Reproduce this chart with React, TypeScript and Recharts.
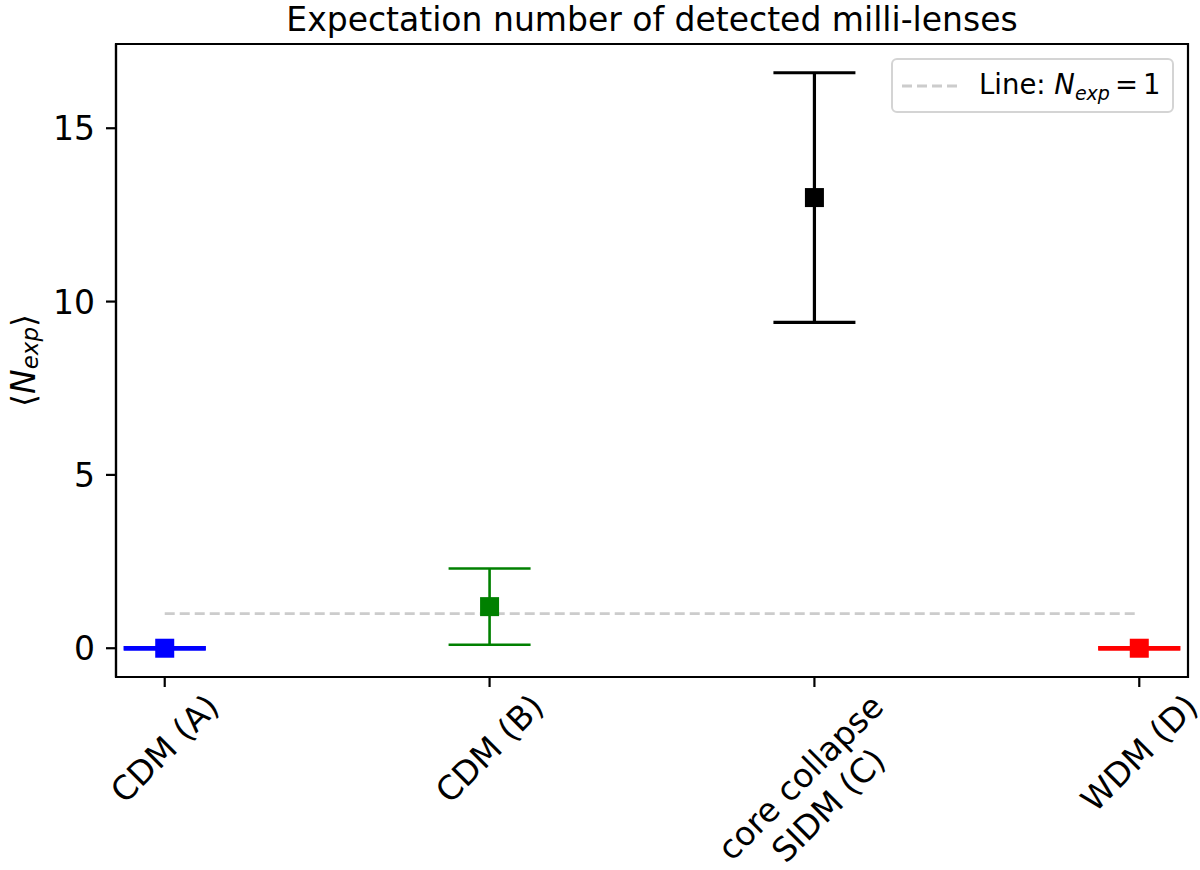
import React from 'react';
import {
  ComposedChart,
  Scatter,
  ErrorBar,
  XAxis,
  YAxis,
  ReferenceLine,
  ReferenceArea,
  Legend,
} from 'recharts';

// models on the x axis, one point each
const models = ['CDM (A)', 'CDM (B)', 'core collapse\nSIDM (C)', 'WDM (D)'];
const modelPos = [0, 1, 2, 3];
const expected = [0, 1.2, 13.0, 0];
const expectedErr = [0, 1.1, 3.6, 0];
const seriesColors = ['#0000ff', '#008000', '#000000', '#ff0000'];
const yTicks = [0, 5, 10, 15];
const threshold = 1;

const FS = 33;
const LEG_FS = 27.5;
const FONT = '"DejaVu Sans", Verdana, sans-serif';
const xDomain = [-0.15, 3.15];
const yDomain = [-0.83, 17.43];
const errWidths = [4.5, 2.6, 3.2, 4.5];

let ctx: CanvasRenderingContext2D | null = null;
const textWidth = (s: string) => {
  if (!ctx) ctx = document.createElement('canvas').getContext('2d');
  if (!ctx) return s.length * FS * 0.6;
  ctx.font = `${FS}px "DejaVu Sans"`;
  return ctx.measureText(s).width;
};

const XTick = (props: any) => {
  const { x, y, payload } = props;
  const label = models[Math.round(payload.value)];
  if (!label) return null;
  const lines = label.split('\n');
  const w = Math.max(...lines.map(textWidth));
  const h = FS * (1.164 + 1.2 * (lines.length - 1));
  const cy = y + (w + h) / (2 * Math.SQRT2);
  const first = -h / 2 + 0.928 * FS;
  return (
    <g transform={`translate(${x},${cy}) rotate(-45)`}>
      <text textAnchor="middle" fontSize={FS} fontFamily={FONT} fill="#000">
        {lines.map((l: string, i: number) => (
          <tspan key={i} x={0} y={first + i * 1.2 * FS}>
            {l}
          </tspan>
        ))}
      </text>
    </g>
  );
};

const YTick = (props: any) => {
  const { x, y, payload } = props;
  return (
    <text x={x} y={y} dy={12} textAnchor="end" fontSize={FS} fontFamily={FONT} fill="#000">
      {payload.value}
    </text>
  );
};

const YLabel = (props: any) => {
  const vb = props.viewBox || { x: 0, y: 44, height: 633 };
  const cy = vb.y + vb.height / 2;
  return (
    <text
      transform={`translate(${vb.x + 23},${cy}) rotate(-90)`}
      textAnchor="middle"
      dominantBaseline="central"
      fontSize={FS}
      fontFamily={FONT}
      fill="#000"
    >
      ⟨<tspan fontStyle="italic">N</tspan>
      <tspan fontStyle="italic" fontSize={23} dy={7}>exp</tspan>
      <tspan dy={-7}>⟩</tspan>
    </text>
  );
};

const renderLegend = () => (
  <div
    style={{
      width: 279,
      height: 51,
      border: '2px solid #d4d4d4',
      borderRadius: 6,
      background: 'rgba(255,255,255,0.8)',
      display: 'flex',
      alignItems: 'center',
      fontFamily: FONT,
      fontSize: LEG_FS,
      color: '#000',
      boxSizing: 'content-box',
    }}
  >
    <svg width={56} height={10} style={{ marginLeft: 9, marginRight: 21 }}>
      <line x1={0} y1={5} x2={56} y2={5} stroke="#cccccc" strokeWidth={2.8} strokeDasharray="10 5" />
    </svg>
    <span style={{ whiteSpace: 'nowrap' }}>
      Line: <i>N</i>
      <sub style={{ fontSize: 19, fontStyle: 'italic', verticalAlign: -6 }}>exp</sub>
      <span style={{ margin: '0 5px' }}>=</span>1
    </span>
  </div>
);

const Square = (color: string) => (p: any) =>
  <rect x={p.cx - 9.5} y={p.cy - 9.5} width={19} height={19} fill={color} />;

export default function App() {
  return (
    <div style={{ position: 'absolute', left: 0, top: 0, width: 1200, height: 870, background: '#fff' }}>
      <svg width={1200} height={44} style={{ position: 'absolute', left: 0, top: 0 }}>
        <text x={652} y={31} textAnchor="middle" fontSize={FS} fontFamily={FONT} fill="#000">
          Expectation number of detected milli-lenses
        </text>
      </svg>
      <ComposedChart width={1200} height={870} margin={{ top: 44, right: 12, left: 0, bottom: 0 }}>
        <XAxis
          dataKey="x"
          type="number"
          domain={xDomain}
          ticks={modelPos}
          allowDataOverflow
          height={193}
          tickSize={10}
          tickMargin={0}
          axisLine={{ stroke: '#000', strokeWidth: 2.2 }}
          tickLine={{ stroke: '#000', strokeWidth: 2.2 }}
          tick={<XTick />}
          interval={0}
        />
        <YAxis
          type="number"
          domain={yDomain}
          ticks={yTicks}
          allowDataOverflow
          width={116}
          tickSize={10}
          tickMargin={11}
          axisLine={{ stroke: '#000', strokeWidth: 2.2 }}
          tickLine={{ stroke: '#000', strokeWidth: 2.2 }}
          tick={<YTick />}
          label={{ content: (p: any) => <YLabel {...p} /> }}
        />
        <ReferenceArea
          x1={xDomain[0]}
          x2={xDomain[1]}
          y1={yDomain[0]}
          y2={yDomain[1]}
          fill="none"
          stroke="#000"
          strokeWidth={2.2}
        />
        {models.map((m, i) => (
          <Scatter
            key={m}
            name={m}
            data={[{ x: modelPos[i], y: expected[i], err: [expectedErr[i], expectedErr[i]] }]}
            dataKey="y"
            fill={seriesColors[i]}
            shape={Square(seriesColors[i])}
            isAnimationActive={false}
            legendType="none"
          >
            <ErrorBar
              dataKey="err"
              direction="y"
              width={41}
              stroke={seriesColors[i]}
              strokeWidth={errWidths[i]}
              isAnimationActive={false}
            />
          </Scatter>
        ))}
        <ReferenceLine
          segment={[
            { x: modelPos[0], y: threshold },
            { x: modelPos[modelPos.length - 1], y: threshold },
          ]}
          stroke="#cccccc"
          strokeWidth={2.8}
          strokeDasharray="10 5"
        />
        <Legend
          layout="vertical"
          align="center"
          verticalAlign="middle"
          content={renderLegend}
          wrapperStyle={{ position: 'absolute', left: 891, top: 58, width: 283, height: 55 }}
        />
      </ComposedChart>
    </div>
  );
}
